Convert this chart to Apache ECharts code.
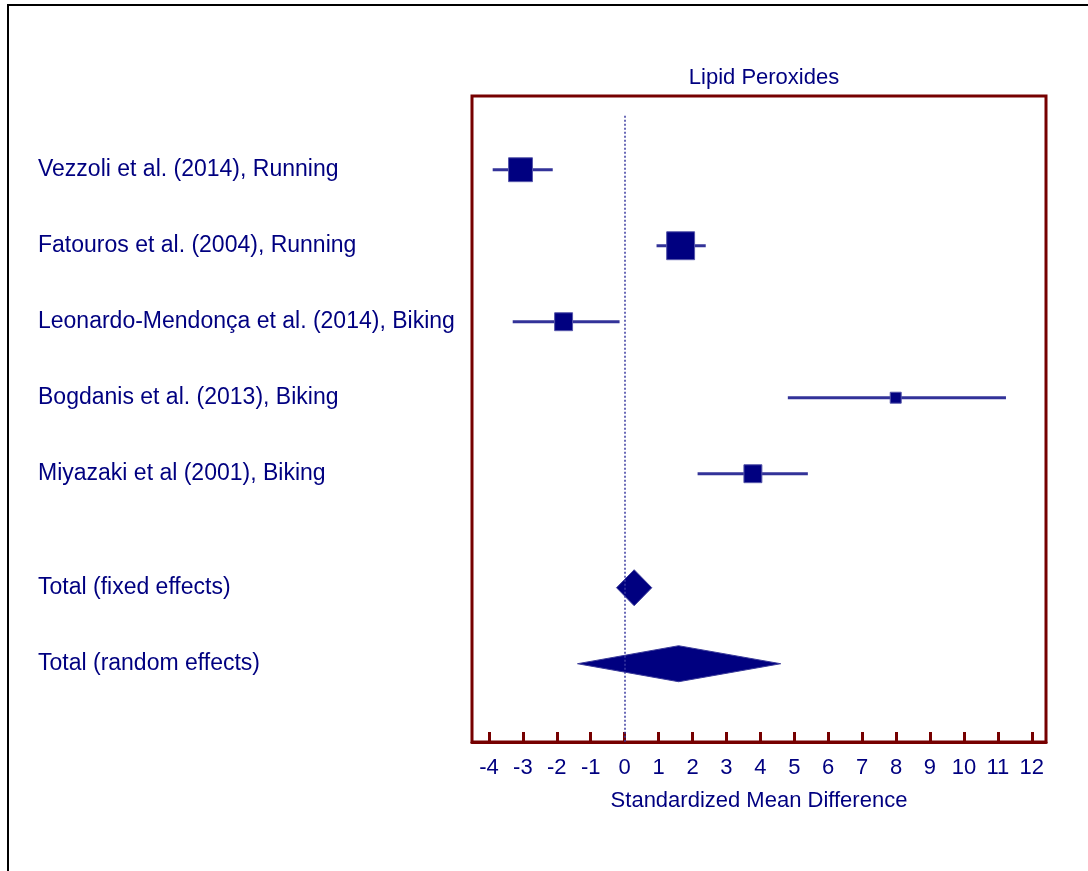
<!DOCTYPE html>
<html>
<head>
<meta charset="utf-8">
<script src="https://cdn.jsdelivr.net/npm/echarts@6/dist/echarts.min.js"></script>
<style>
  html, body { margin: 0; padding: 0; background: #fff; }
  #chart { width: 1088px; height: 871px; }
</style>
</head>
<body>
<div id="chart"></div>
<script>
// forest plot: lipid peroxides
const studyNames = [
  'Vezzoli et al. (2014), Running',
  'Fatouros et al. (2004), Running',
  'Leonardo-Mendonça et al. (2014), Biking',
  'Bogdanis et al. (2013), Biking',
  'Miyazaki et al (2001), Biking',
]
const studyRows = [0, 1, 2, 3, 4]
const studyEst = [-3.07, 1.65, -1.80, 7.99, 3.78]
const studyLow = [-3.89, 0.94, -3.30, 4.81, 2.15]
const studyHigh = [-2.12, 2.39, -0.15, 11.24, 5.40]
const studyWeight = [27.0, 36.8, 15.2, 5.7, 15.2] // %

const totalNames = ['Total (fixed effects)', 'Total (random effects)']
const totalRows = [5.5, 6.5]
const totalEst = [0.28, 1.59]
const totalLow = [-0.24, -1.39]
const totalHigh = [0.80, 4.60]

const xTicks = [-4, -3, -2, -1, 0, 1, 2, 3, 4, 5, 6, 7, 8, 9, 10, 11, 12]

const navy = '#000080'
const maroon = '#760000'
const font = '"Liberation Sans", Arial, sans-serif'

const allRows = studyRows.concat(totalRows)
const allNames = studyNames.concat(totalNames)

const chart = echarts.init(document.getElementById('chart'))

const option = {
  animation: false,
  textStyle: { fontFamily: font },
  title: {
    text: 'Lipid Peroxides',
    left: 759,
    top: 62,
    textAlign: 'center',
    textStyle: { fontSize: 22, fontWeight: 'normal', color: navy, fontFamily: font },
  },
  graphic: [
    {
      type: 'polyline',
      shape: { points: [[8, 871], [8, 5], [1088, 5]] },
      style: { stroke: '#000', lineWidth: 2, fill: null },
      silent: true,
    },
  ],
  grid: {
    left: 472,
    right: 42,
    top: 96,
    bottom: 129,
    show: true,
    borderColor: maroon,
    borderWidth: 3,
    containLabel: false,
  },
  xAxis: {
    type: 'value',
    min: -4.5,
    max: 12.42,
    axisLine: { show: true, onZero: false, lineStyle: { color: maroon, width: 3 } },
    splitLine: { show: false },
    axisTick: {
      inside: true,
      length: 10,
      customValues: xTicks,
      lineStyle: { color: maroon, width: 3 },
    },
    axisLabel: {
      customValues: xTicks,
      margin: 15,
      fontSize: 22,
      color: navy,
      fontFamily: font,
    },
    name: 'Standardized Mean Difference',
    nameLocation: 'middle',
    nameGap: 48,
    nameTextStyle: { fontSize: 22, color: navy, fontFamily: font },
  },
  yAxis: {
    type: 'value',
    inverse: true,
    min: -0.97,
    max: 7.53,
    axisLine: { show: false },
    axisTick: { show: false },
    splitLine: { show: false },
    axisLabel: {
      customValues: allRows,
      align: 'left',
      margin: 434,
      padding: [3, 0, 0, 0],
      fontSize: 23,
      color: navy,
      fontFamily: font,
      formatter: (v) => {
        const i = allRows.indexOf(v)
        return i >= 0 ? allNames[i] : ''
      },
    },
  },
  series: [
    {
      name: 'studies',
      type: 'custom',
      data: studyEst.map((e, i) => [e, studyLow[i], studyHigh[i], studyRows[i], studyWeight[i]]),
      encode: { x: [0, 1, 2], y: 3 },
      renderItem: (params, api) => {
        const row = api.value(3)
        const c = api.coord([api.value(0), row])
        const lo = api.coord([api.value(1), row])
        const hi = api.coord([api.value(2), row])
        const s = Math.sqrt(api.value(4)) * 4.6
        return {
          type: 'group',
          children: [
            {
              type: 'line',
              shape: { x1: lo[0], y1: lo[1], x2: hi[0], y2: hi[1] },
              style: { stroke: '#333399', lineWidth: 3 },
            },
            {
              type: 'rect',
              shape: { x: c[0] - s / 2, y: c[1] - s / 2, width: s, height: s },
              style: { fill: navy, stroke: '#5555aa', lineWidth: 1 },
            },
          ],
        }
      },
      markLine: {
        silent: true,
        symbol: 'none',
        label: { show: false },
        lineStyle: { color: '#3a3aa0', type: [2, 2], width: 1.5 },
        data: [[{ coord: [0, -0.71] }, { coord: [0, 7.53] }]],
      },
      z: 3,
    },
    {
      name: 'totals',
      type: 'custom',
      data: totalEst.map((e, i) => [e, totalLow[i], totalHigh[i], totalRows[i]]),
      encode: { x: [0, 1, 2], y: 3 },
      renderItem: (params, api) => {
        const row = api.value(3)
        const c = api.coord([api.value(0), row])
        const lo = api.coord([api.value(1), row])
        const hi = api.coord([api.value(2), row])
        const h = 18
        return {
          type: 'polygon',
          shape: { points: [[lo[0], c[1]], [c[0], c[1] - h], [hi[0], c[1]], [c[0], c[1] + h]] },
          style: { fill: navy, stroke: '#3a3a99', lineWidth: 1 },
        }
      },
      z: 3,
    },
  ],
}

chart.setOption(option)
</script>
</body>
</html>
